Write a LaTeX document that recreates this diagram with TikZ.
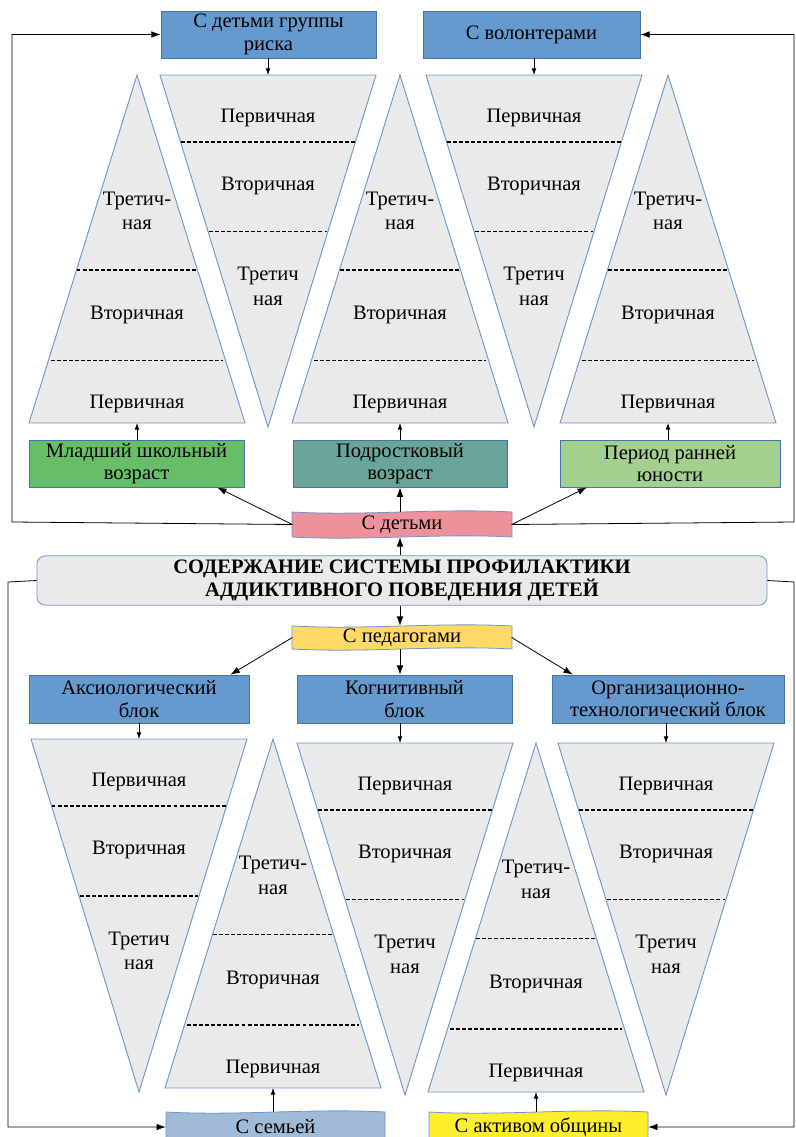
\documentclass[tikz,border=0pt]{standalone}
\usepackage{fontspec}
\setmainfont{Liberation Serif}
\usetikzlibrary{positioning}
\usetikzlibrary{arrows.meta}

\definecolor{boxblue}{RGB}{102,153,206}
\definecolor{boxedge}{RGB}{70,116,170}
\definecolor{pyredge}{RGB}{110,150,202}
\definecolor{pyrfill}{RGB}{234,234,234}
\definecolor{youngfill}{RGB}{104,190,104}
\definecolor{teenfill}{RGB}{107,164,155}
\definecolor{youthfill}{RGB}{163,207,143}
\definecolor{kidsfill}{RGB}{237,146,155}
\definecolor{pedfill}{RGB}{255,217,102}
\definecolor{familyfill}{RGB}{160,186,216}
\definecolor{commfill}{RGB}{255,238,45}

\newcommand{\boxfont}{\fontsize{15.5}{17}\selectfont}
\newcommand{\levfont}{\fontsize{15.5}{18.5}\selectfont}

\tikzset{
  blockbox/.style={rectangle, draw=boxedge, fill=boxblue, line width=0.6pt, align=center, font=\boxfont, inner sep=1pt, minimum height=1.25cm},
  tapebox/.style={draw=pyredge, line width=0.6pt},
  tapetext/.style={align=center, font=\boxfont, inner sep=0pt, minimum width=5.8cm},
  pyrbox/.style={draw=pyredge, fill=pyrfill, line width=0.7pt, line join=miter},
  level/.style={dash pattern=on 3pt off 1.6pt, line width=1.1pt},
  levtext/.style={align=center, font=\levfont, inner sep=0pt},
  arr/.style={-{Latex[length=7pt,width=5pt]}, line width=0.6pt},
  sarr/.style={-{Latex[length=5pt,width=3.6pt]}, line width=0.6pt}
}

\newcommand{\uppyr}[4]{%
  \draw[pyrbox] (#2,#3) -- ({#2+108},#4) -- ({#2-108},#4) -- cycle;
  \draw[level] ({#2-0.56*108},{#3+0.56*(#4-#3)}) -- ({#2+0.56*108},{#3+0.56*(#4-#3)});
  \draw[level] ({#2-0.80*108},{#3+0.82*(#4-#3)}) -- ({#2+0.80*108},{#3+0.82*(#4-#3)});
  \node[levtext] (#1-a) at (#2,{#3+0.39*(#4-#3)}) {Третич-\\ная};
  \node[levtext] (#1-b) at (#2,{#3+0.69*(#4-#3)}) {Вторичная};
  \node[levtext] (#1-c) at (#2,{#3+0.945*(#4-#3)}) {Первичная};
  \coordinate (#1) at (#2,#4);
}
\newcommand{\dnpyr}[4]{%
  \draw[pyrbox] ({#2-108},#3) -- ({#2+108},#3) -- (#2,#4) -- cycle;
  \draw[level] ({#2-0.81*108},{#3+0.19*(#4-#3)}) -- ({#2+0.81*108},{#3+0.19*(#4-#3)});
  \draw[level] ({#2-0.55*108},{#3+0.445*(#4-#3)}) -- ({#2+0.55*108},{#3+0.445*(#4-#3)});
  \node[levtext] (#1-a) at (#2,{#3+0.122*(#4-#3)}) {Первичная};
  \node[levtext] (#1-b) at (#2,{#3+0.315*(#4-#3)}) {Вторичная};
  \node[levtext] (#1-c) at (#2,{#3+0.60*(#4-#3)}) {Третич\\ная};
  \coordinate (#1) at (#2,#3);
}
\newcommand{\tapeshape}[5]{%
  \draw[tapebox, fill=#5] (#1,#2) .. controls ({#1+(#3-#1)/3},{#2+4}) and ({#1+2*(#3-#1)/3},{#2-4}) .. (#3,#2)
    -- (#3,#4) .. controls ({#1+2*(#3-#1)/3},{#4-4}) and ({#1+(#3-#1)/3},{#4+4}) .. (#1,#4) -- cycle;
}

\begin{document}
\begin{tikzpicture}[x=0.0265cm, y=-0.0265cm]
\useasboundingbox (0,0) rectangle (795,1137);

\uppyr{upa}{137}{75}{423}
\dnpyr{dna}{268}{75}{427}
\uppyr{upb}{400}{75}{423}
\dnpyr{dnb}{534}{75}{427}
\uppyr{upc}{668}{75}{423}
\dnpyr{dnc}{139}{739}{1092}
\uppyr{upd}{273}{739}{1088}
\dnpyr{dnd}{405}{743}{1095}
\uppyr{upe}{536}{743}{1092}
\dnpyr{dne}{666}{743}{1095}

\node[blockbox, minimum width=5.70cm] (risk) at (268.5,34.5) {С детьми группы\\риска};
\node[blockbox, minimum width=5.75cm] (vol) at (531.5,34.5) {С волонтерами};

\node[blockbox, fill=youngfill, minimum width=5.70cm] (young) at (136.5,463.5) {Младший школьный\\возраст};
\node[blockbox, fill=teenfill, minimum width=5.67cm] (teen) at (400,463.5) {Подростковый\\возраст};
\node[blockbox, fill=youthfill, minimum width=5.83cm] (youth) at (670,463.5) {Период ранней\\юности};

\tapeshape{292}{512}{512}{537}{kidsfill}
\node[tapetext, minimum height=0.66cm] (kids) at (402,524.5) {С детьми};

\node[rectangle, rounded corners=0.22cm, draw=pyredge, fill=pyrfill, line width=0.6pt, minimum width=19.35cm, minimum height=1.25cm, align=center, font=\boxfont\bfseries] (main) at (402,580.5) {СОДЕРЖАНИЕ СИСТЕМЫ ПРОФИЛАКТИКИ\\АДДИКТИВНОГО ПОВЕДЕНИЯ ДЕТЕЙ};

\tapeshape{292}{626}{512}{649}{pedfill}
\node[tapetext, minimum height=0.61cm] (ped) at (402,637.5) {С педагогами};

\node[blockbox, minimum width=5.83cm, minimum height=1.27cm] (axio) at (139,699) {Аксиологический\\блок};
\node[blockbox, minimum width=5.70cm, minimum height=1.27cm] (cog) at (404.5,699) {Когнитивный\\блок};
\node[blockbox, minimum width=6.15cm, minimum height=1.27cm] (org) at (668,699) {Организационно-\\технологический блок};

\tapeshape{166}{1112}{385}{1150}{familyfill}
\node[tapetext, minimum height=0.8cm] (family) at (275.5,1127) {С семьей};
\tapeshape{429}{1112}{648}{1150}{commfill}
\node[tapetext, minimum height=0.8cm] (comm) at (538.5,1127) {С активом общины};

\coordinate (lf) at (12,522);
\coordinate (rf) at (794,522);
\coordinate (lb) at (8,582);
\coordinate (rb) at (794,582);

\draw[sarr] (risk.south -| dna) -- (dna);
\draw[sarr] (vol.south -| dnb) -- (dnb);
\draw[sarr] (young.north -| upa) -- (upa);
\draw[sarr] (teen.north) -- (upb);
\draw[sarr] (youth.north -| upc) -- (upc);

\draw[arr] (kids.west) -- ([xshift=-0.72cm]young.south east);
\draw[arr] (kids.north -| teen) -- (teen.south);
\draw[arr] (kids.east) -- ([xshift=0.72cm]youth.south west);
\draw[arr] (kids.west) -- (lf) |- (risk.west);
\draw[arr] (kids.east) -- (rf) |- (vol.east);

\draw[arr] (main.north -| teen) -- (kids.south -| teen);
\draw[arr] (main.south -| teen) -- (ped.north -| teen);

\draw[arr] (ped.west) -- ([xshift=-0.5cm]axio.north east);
\draw[arr] (ped.south -| teen) -- (cog.north -| teen);
\draw[arr] (ped.east) -- ([xshift=0.56cm]org.north west);

\draw[sarr] (axio.south -| dnc) -- (dnc);
\draw[sarr] (cog.south -| teen) -- (teen |- dnd);
\draw[sarr] (org.south -| dne) -- (dne);

\draw[arr] (main.west) -- (lb) |- (family.west);
\draw[arr] (main.east) -- (rb) |- (comm.east);
\draw[sarr] (family.north -| upd) -- (upd);
\draw[sarr] (comm.north -| upe) -- (upe);
\end{tikzpicture}
\end{document}
